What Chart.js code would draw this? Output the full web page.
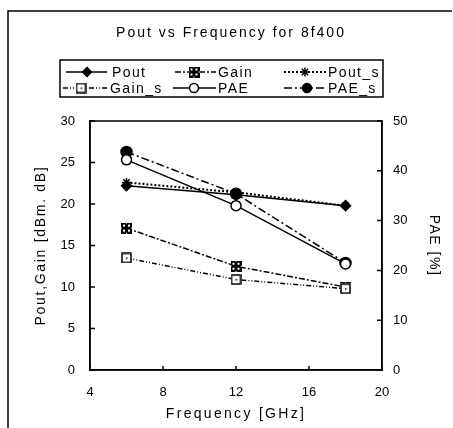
<!DOCTYPE html>
<html>
<head>
<meta charset="utf-8">
<script src="https://cdn.jsdelivr.net/npm/chart.js@4.4.1/dist/chart.umd.min.js"></script>
<style>
html, body { margin: 0; padding: 0; background: #fff; }
#wrap { width: 453px; height: 428px; position: relative; }
</style>
</head>
<body>
<div id="wrap"><canvas id="doThi" width="453" height="428"></canvas></div>
<script>
// du lieu doc tu hinh
var freq = [6, 12, 18];
var pout = [22.2, 21.1, 19.8];
var gain = [17.1, 12.5, 10.0];
var poutS = [22.6, 21.4, 19.8];
var gainS = [13.5, 10.9, 9.8];
var pae = [42.2, 33.0, 21.3];
var paeS = [43.8, 35.4, 21.5];
var leftTicks = [0, 5, 10, 15, 20, 25, 30];
var rightTicks = [0, 10, 20, 30, 40, 50];
var freqTicks = [4, 8, 12, 16, 20];

function toPoints(xs, ys) {
    return xs.map(function (x, i) { return { x: x, y: ys[i] }; });
}

// marker ve tay cho Gain va Gain_s
function markerGain() {
    var c = document.createElement('canvas');
    c.width = 11; c.height = 11;
    var g = c.getContext('2d');
    g.fillStyle = '#000';
    g.fillRect(0, 0, 11, 11);
    g.fillStyle = '#fff';
    g.fillRect(2, 2, 2, 2); g.fillRect(7, 2, 2, 2);
    g.fillRect(2, 7, 2, 2); g.fillRect(7, 7, 2, 2);
    g.fillRect(5, 0, 1, 1); g.fillRect(0, 5, 1, 1); g.fillRect(10, 5, 1, 1); g.fillRect(5, 10, 1, 1);
    return c;
}
function markerGainS() {
    var c = document.createElement('canvas');
    c.width = 11; c.height = 11;
    var g = c.getContext('2d');
    g.fillStyle = '#fff';
    g.fillRect(0, 0, 11, 11);
    g.strokeStyle = '#000';
    g.lineWidth = 1.5;
    g.strokeRect(1, 1, 9, 9);
    g.fillStyle = '#000';
    g.fillRect(5, 5, 1.5, 1.5);
    return c;
}
var mGain = markerGain();
var mGainS = markerGainS();

var datasets = [
    { label: 'Gain_s', data: toPoints(freq, gainS), yAxisID: 'y', borderDash: [5, 2, 1, 2, 1, 2], pointStyle: mGainS, pointRadius: 5, pointBackgroundColor: '#fff' },
    { label: 'Gain', data: toPoints(freq, gain), yAxisID: 'y', borderDash: [6, 2, 2, 2], pointStyle: mGain, pointRadius: 5, pointBackgroundColor: '#000' },
    { label: 'Pout_s', data: toPoints(freq, poutS), yAxisID: 'y', borderDash: [2, 2], borderWidth: 2, pointStyle: 'star', pointRadius: 4.5, pointBackgroundColor: '#000' },
    { label: 'Pout', data: toPoints(freq, pout), yAxisID: 'y', borderDash: [], pointStyle: 'rectRot', pointRadius: 5, pointBackgroundColor: '#000' },
    { label: 'PAE', data: toPoints(freq, pae), yAxisID: 'y1', borderDash: [], pointStyle: 'circle', pointRadius: 5, pointBackgroundColor: '#fff' },
    { label: 'PAE_s', data: toPoints(freq, paeS), yAxisID: 'y1', borderDash: [8, 3, 2, 3], pointStyle: 'circle', pointRadius: 5.5, pointBackgroundColor: '#000' }
];
datasets.forEach(function (d) {
    d.borderColor = '#000';
    d.pointBorderColor = '#000';
    if (!d.borderWidth) d.borderWidth = 1.5;
    d.pointBorderWidth = 1.5;
    d.showLine = true;
    d.tension = 0;
});

// vi tri chu giai (legend)
var legendItems = [
    { label: 'Pout', row: 0, x0: 66, xm: 87, x1: 107, tx: 112 },
    { label: 'Gain', row: 0, x0: 175, xm: 194, x1: 216, tx: 218 },
    { label: 'Pout_s', row: 0, x0: 284, xm: 305, x1: 326, tx: 328 },
    { label: 'Gain_s', row: 1, x0: 63, xm: 81, x1: 107, tx: 110 },
    { label: 'PAE', row: 1, x0: 173, xm: 194, x1: 216, tx: 218 },
    { label: 'PAE_s', row: 1, x0: 284, xm: 307, x1: 326, tx: 328 }
];

function spacedTitle(scale, sp) {
    if (scale._spaced) return;
    var orig = scale.drawTitle.bind(scale);
    scale.drawTitle = function () {
        scale.ctx.save();
        scale.ctx.letterSpacing = sp;
        orig();
        scale.ctx.restore();
    };
    scale._spaced = true;
}

var khungPlugin = {
    id: 'khung',
    afterDraw: function (chart) {
        var ctx = chart.ctx;
        var a = chart.chartArea;
        ctx.save();
        ctx.strokeStyle = '#000';
        // khung ngoai
        ctx.lineWidth = 1.5;
        ctx.beginPath();
        ctx.moveTo(8, 428); ctx.lineTo(8, 11); ctx.lineTo(452, 11);
        ctx.stroke();
        // khung vung ve
        ctx.lineWidth = 1.5;
        ctx.strokeRect(a.left, a.top, a.right - a.left, a.bottom - a.top);
        // vach chia huong vao trong
        var sx = chart.scales.x, sy = chart.scales.y, sy1 = chart.scales.y1;
        ctx.beginPath();
        sx.ticks.forEach(function (t) {
            var px = sx.getPixelForValue(t.value);
            ctx.moveTo(px, a.bottom); ctx.lineTo(px, a.bottom - 4);
        });
        sy.ticks.forEach(function (t) {
            var py = sy.getPixelForValue(t.value);
            ctx.moveTo(a.left, py); ctx.lineTo(a.left + 5, py);
        });
        sy1.ticks.forEach(function (t) {
            var py = sy1.getPixelForValue(t.value);
            ctx.moveTo(a.right, py); ctx.lineTo(a.right - 5, py);
        });
        ctx.stroke();

        // tieu de
        ctx.fillStyle = '#000';
        ctx.font = '14px "Liberation Sans", Arial, sans-serif';
        ctx.letterSpacing = '2px';
        ctx.textAlign = 'center';
        ctx.textBaseline = 'middle';
        ctx.fillText('Pout vs Frequency for 8f400', 231, 33);

        // chu giai
        ctx.lineWidth = 1.5;
        ctx.strokeRect(60, 60, 323, 37);
        ctx.textAlign = 'left';
        ctx.letterSpacing = '1.4px';
        legendItems.forEach(function (it) {
            var ds = chart.data.datasets.find(function (d) { return d.label === it.label; });
            var y = it.row === 0 ? 72 : 88;
            ctx.save();
            ctx.lineWidth = ds.borderWidth;
            ctx.setLineDash(ds.borderDash);
            ctx.beginPath();
            ctx.moveTo(it.x0, y); ctx.lineTo(it.x1, y);
            ctx.stroke();
            ctx.restore();
            ctx.save();
            ctx.fillStyle = ds.pointBackgroundColor;
            ctx.strokeStyle = '#000';
            ctx.lineWidth = 1.5;
            Chart.helpers.drawPoint(ctx, { pointStyle: ds.pointStyle, radius: 4.5, rotation: 0, borderWidth: 1.5 }, it.xm, y);
            ctx.restore();
            ctx.fillText(it.label, it.tx, y + 1);
        });
        ctx.restore();
    }
};

var fontTick = { family: '"Liberation Sans", Arial, sans-serif', size: 13 };
var fontTitle = { family: '"Liberation Sans", Arial, sans-serif', size: 14 };

new Chart(document.getElementById('doThi').getContext('2d'), {
    type: 'scatter',
    data: { datasets: datasets },
    plugins: [khungPlugin],
    options: {
        responsive: false,
        animation: false,
        layout: { padding: { top: 121, left: 0, right: 0, bottom: 0 } },
        plugins: { legend: { display: false }, tooltip: { enabled: false } },
        scales: {
            x: {
                type: 'linear', min: 4, max: 20,
                afterFit: function (s) { s.height = 58; spacedTitle(s, '2.3px'); },
                afterBuildTicks: function (s) { s.ticks = freqTicks.map(function (v) { return { value: v }; }); },
                grid: { drawOnChartArea: false, drawTicks: false },
                border: { color: '#000', width: 1.5 },
                ticks: { color: '#000', font: fontTick, padding: 15, maxRotation: 0 },
                title: { display: true, text: 'Frequency [GHz]', color: '#000', font: fontTitle, padding: { top: 0, bottom: 5 } }
            },
            y: {
                type: 'linear', position: 'left', min: 0, max: 30,
                afterFit: function (s) { s.width = 90; spacedTitle(s, '1.7px'); },
                afterBuildTicks: function (s) { s.ticks = leftTicks.map(function (v) { return { value: v }; }); },
                grid: { drawOnChartArea: false, drawTicks: false },
                border: { color: '#000', width: 1.5 },
                ticks: { color: '#000', font: fontTick, padding: 15 },
                title: { display: true, text: 'Pout,Gain [dBm. dB]', color: '#000', font: fontTitle, padding: { top: 33, bottom: 0 } }
            },
            y1: {
                type: 'linear', position: 'right', min: 0, max: 50,
                afterFit: function (s) { s.width = 71; spacedTitle(s, '1.5px'); },
                afterBuildTicks: function (s) { s.ticks = rightTicks.map(function (v) { return { value: v }; }); },
                grid: { drawOnChartArea: false, drawTicks: false },
                border: { color: '#000', width: 1.5 },
                ticks: { color: '#000', font: fontTick, padding: 11 },
                title: { display: true, text: 'PAE [%]', color: '#000', font: fontTitle, padding: { top: 11, bottom: 0 } }
            }
        }
    }
});
</script>
</body>
</html>
